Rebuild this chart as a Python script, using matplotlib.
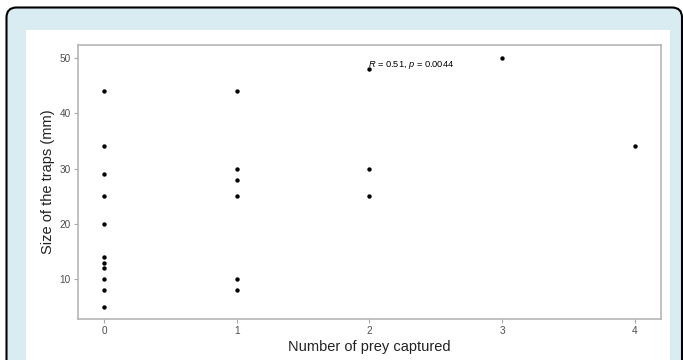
import numpy as np
import matplotlib
matplotlib.use("Agg")
import matplotlib.pyplot as plt
from matplotlib.patches import FancyBboxPatch, Rectangle

# Datos: numero de presas capturadas vs tamaño de la trampa
prey = [0, 0, 0, 0, 0, 0, 0, 0, 0, 0, 0,
        1, 1, 1, 1, 1, 1,
        2, 2, 2,
        3,
        4]
trap_size = [44, 34, 29, 25, 20, 14, 13, 12, 10, 8, 5,
             44, 30, 28, 25, 10, 8,
             48, 30, 25,
             50,
             34]
x_ticks = [0, 1, 2, 3, 4]
y_ticks = [10, 20, 30, 40, 50]
cor_label = r"$\it{R}$ = 0.51, $\it{p}$ = 0.0044"

plt.rcParams["font.family"] = ["Liberation Sans", "DejaVu Sans"]
plt.rcParams["mathtext.fontset"] = "custom"
plt.rcParams["mathtext.it"] = "Liberation Sans:italic"
plt.rcParams["mathtext.rm"] = "Liberation Sans"

fig = plt.figure(figsize=(6.83, 3.6), dpi=100)
fig.patch.set_facecolor("white")

# marco azul con borde redondeado
frame = FancyBboxPatch((0.065, -0.5), 6.755, 4.025,
                       boxstyle="round,pad=0,rounding_size=0.1",
                       transform=fig.dpi_scale_trans,
                       facecolor="#d9ecf2", edgecolor="black", linewidth=1.5,
                       zorder=-3)
fig.add_artist(frame)
panel = Rectangle((0.26, -0.2), 6.437, 3.50, transform=fig.dpi_scale_trans,
                  facecolor="white", edgecolor="none", zorder=-2)
fig.add_artist(panel)

ax = fig.add_axes([77.7 / 683, 1 - 319.3 / 360, (661.3 - 77.7) / 683, (319.3 - 45) / 360])
ax.set_facecolor("white")

ax.scatter(prey, trap_size, s=10, color="black", zorder=3, linewidths=0)
ax.text(1.99, 48.7, cor_label, fontsize=6.7, ha="left", va="center", color="black")

ax.set_xlim(-0.2, 4.2)
ax.set_ylim(2.75, 52.35)
ax.set_xticks(x_ticks)
ax.set_yticks(y_ticks)
ax.tick_params(axis="both", length=3, width=0.8, color="#aaaaaa",
               labelsize=7.2, labelcolor="#4d4d4d", pad=2)
for s in ax.spines.values():
    s.set_color("#b0b0b0")
    s.set_linewidth(1.1)

ax.set_xlabel("Number of prey captured", fontsize=10.5, color="#222222", labelpad=3)
ax.set_ylabel("Size of the traps (mm)", fontsize=10.5, color="#222222", labelpad=3)

fig.savefig("out.png", dpi=100)
